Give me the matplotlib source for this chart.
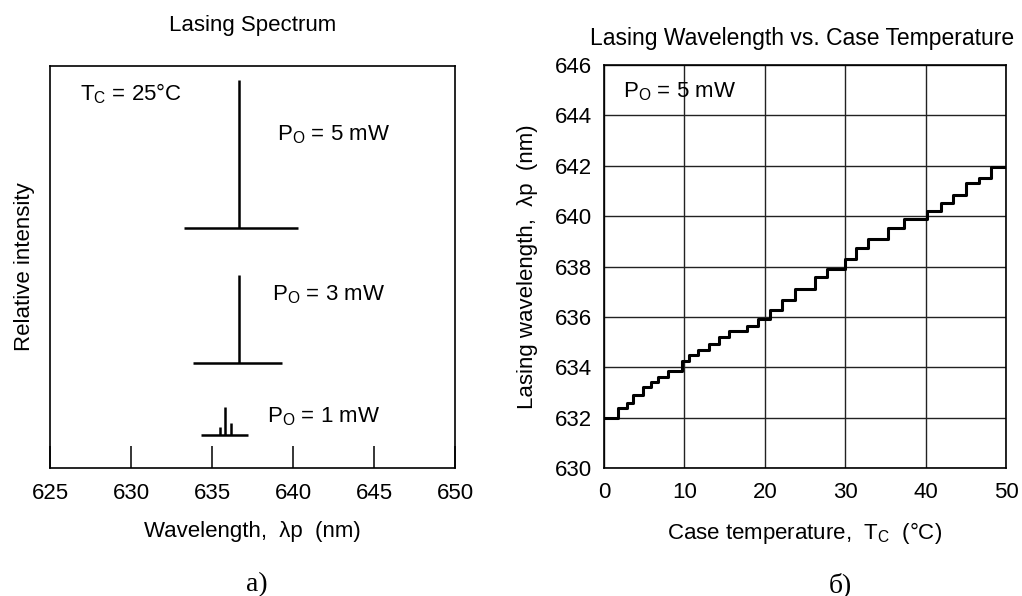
import matplotlib.pyplot as plt
import numpy as np

plt.rcParams['font.family'] = ['Liberation Sans', 'DejaVu Sans']
plt.rcParams['mathtext.fontset'] = 'custom'
plt.rcParams['mathtext.rm'] = 'Liberation Sans'
plt.rcParams['font.size'] = 16

# --- lasing spectrum (a) ---
power_labels = ['5 mW', '3 mW', '1 mW']
base_level = [59.7, 26.2, 8.2]
base_start = [633.3, 633.8, 634.3]
base_end = [640.3, 639.3, 637.2]
peak_pos = [[636.65], [636.65], [635.5, 635.8, 636.2]]
peak_top = [[96.5], [48.0], [10.3, 15.2, 11.2]]
label_xy = [(639.0, 81.6), (638.7, 41.8), (638.4, 11.3)]

# --- wavelength vs case temperature (b) ---
temp_edges = [0, 1.8, 2.8, 3.6, 4.85, 5.9, 6.7, 8.0, 9.75, 10.6, 11.7, 13.1,
              14.3, 15.6, 17.8, 19.1, 20.6, 22.1, 23.8, 26.2, 27.7, 30.0,
              31.4, 32.9, 35.3, 37.3, 40.2, 41.9, 43.4, 45.0, 46.6, 48.2, 50]
wl_levels = [632.0, 632.37, 632.6, 632.9, 633.2, 633.4, 633.6, 633.86,
             634.26, 634.5, 634.7, 634.93, 635.19, 635.43, 635.63, 635.92,
             636.26, 636.69, 637.09, 637.58, 637.9, 638.29, 638.73, 639.1,
             639.55, 639.9, 640.22, 640.53, 640.86, 641.3, 641.52, 641.96]

fig = plt.figure(figsize=(10.22, 5.96), dpi=100)
ax = fig.add_axes([0.0489, 0.2148, 0.3963, 0.6745])
ax2 = fig.add_axes([0.591, 0.2148, 0.3933, 0.676])

for i in range(len(power_labels)):
    ax.hlines(base_level[i], base_start[i], base_end[i], color='k', lw=1.8)
    ax.vlines(peak_pos[i], base_level[i], peak_top[i], color='k', lw=1.8)
    ax.text(label_xy[i][0], label_xy[i][1], r'P$_\mathrm{O}$ = ' + power_labels[i],
            ha='left', va='baseline')
ax.text(626.85, 91.5, r'T$_\mathrm{C}$ = 25°C', ha='left', va='baseline')

ax.set_xlim(625, 650)
ax.set_ylim(0, 100)
ax.set_xticks(np.arange(625, 651, 5))
ax.set_yticks([])
ax.tick_params(axis='x', direction='in', length=15.5, width=1.1, pad=11)
ax.set_xlabel('Wavelength,  λp  (nm)', labelpad=12)
ax.set_ylabel('Relative intensity', labelpad=11)
for s in ax.spines.values():
    s.set_linewidth(1.2)

ax2.step(temp_edges, wl_levels + [wl_levels[-1]], where='post', color='k', lw=2.2)
ax2.set_xlim(0, 50)
ax2.set_ylim(630, 646)
ax2.set_xticks(np.arange(0, 51, 10))
ax2.set_yticks(np.arange(630, 647, 2))
ax2.grid(True, color='#222222', lw=1.0)
ax2.tick_params(length=0, pad=9)
ax2.tick_params(axis='x', pad=10)
ax2.set_xlabel(r'Case temperature,  T$_\mathrm{C}$  (°C)', labelpad=12)
ax2.set_ylabel('Lasing wavelength,  λp  (nm)', labelpad=12)
ax2.text(2.36, 644.72, r'P$_\mathrm{O}$ = 5 mW', ha='left', va='baseline')
for s in ax2.spines.values():
    s.set_linewidth(1.2)

fig.text(253 / 1022, 1 - 25 / 596, 'Lasing Spectrum', ha='center', va='center')
fig.text(802 / 1022, 1 - 38 / 596, 'Lasing Wavelength vs. Case Temperature',
         ha='center', va='center', fontsize=16.5)
fig.text(257 / 1022, 1 - 585 / 596, 'a)', family='Liberation Serif',
         fontsize=20, ha='center', va='center')
fig.text(840 / 1022, 1 - 585 / 596, 'б)', family='Liberation Serif',
         fontsize=20, ha='center', va='center')

plt.savefig('out.png', dpi=100)
